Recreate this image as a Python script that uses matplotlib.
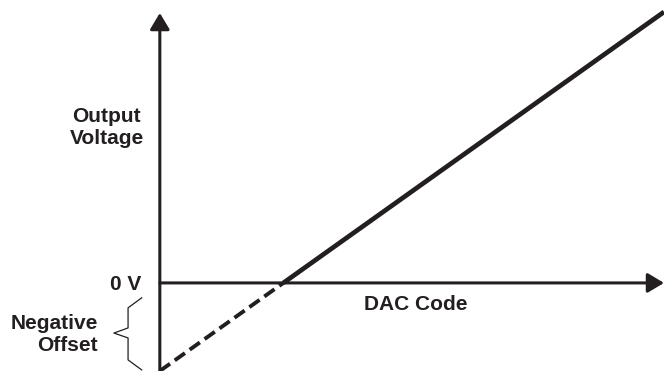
import matplotlib.pyplot as plt
plt.switch_backend('Agg')

# DAC transfer function with negative offset (normalised to full scale)
dac_code = [0.0, 0.245, 1.0]
out_voltage = [-0.325, 0.0, 1.0]
x_limits = [-0.317, 1.0]
y_limits = [-0.325, 1.044]
y_axis_top = 0.996

ink = '#231f20'
plt.rcParams['font.family'] = ['Liberation Sans', 'DejaVu Sans']
plt.rcParams['lines.scale_dashes'] = False

fig = plt.figure(figsize=(6.64, 3.71), dpi=100)
ax = fig.add_axes([0, 0, 1, 1])
ax.set_xlim(x_limits)
ax.set_ylim(y_limits)
ax.axis('off')

arrow = dict(arrowstyle='-|>,head_length=0.45,head_width=0.27', lw=2.2, color=ink,
             mutation_scale=22, shrinkA=0, shrinkB=0)
# axes with arrow heads
ax.annotate('', xy=(0, y_axis_top), xytext=(0, y_limits[0]), arrowprops=arrow)
ax.annotate('', xy=(x_limits[1], 0), xytext=(0, 0), arrowprops=arrow)

# transfer line: dashed below 0 V, solid above
ax.plot(dac_code[:2], out_voltage[:2], color=ink, lw=2.8, dashes=(9.0, 4.2),
        solid_capstyle='butt', dash_capstyle='butt')
ax.plot(dac_code[1:], out_voltage[1:], color=ink, lw=3.4, solid_capstyle='butt')

bold = dict(fontsize=15, fontweight='bold', color=ink)
ax.text(-0.105, 0.572, 'Output\nVoltage', ha='center', va='center', linespacing=1.2, **bold)
ax.text(-0.036, -0.007, '0 V', ha='right', va='center', **bold)
ax.text(0.508, -0.081, 'DAC Code', ha='center', va='center', **bold)
ax.text(-0.123, -0.19, 'Negative\nOffset', ha='right', va='center', linespacing=1.2, **bold)

# curly brace spanning the offset
off = out_voltage[0]
bx = [-0.036, -0.063, -0.063, -0.091, -0.063, -0.063, -0.036]
by = [-0.055, -0.092, -0.166, -0.185, -0.203, -0.284, off + 0.004]
ax.plot(bx, by, color=ink, lw=0.9)

fig.savefig('out.png', dpi=100)
